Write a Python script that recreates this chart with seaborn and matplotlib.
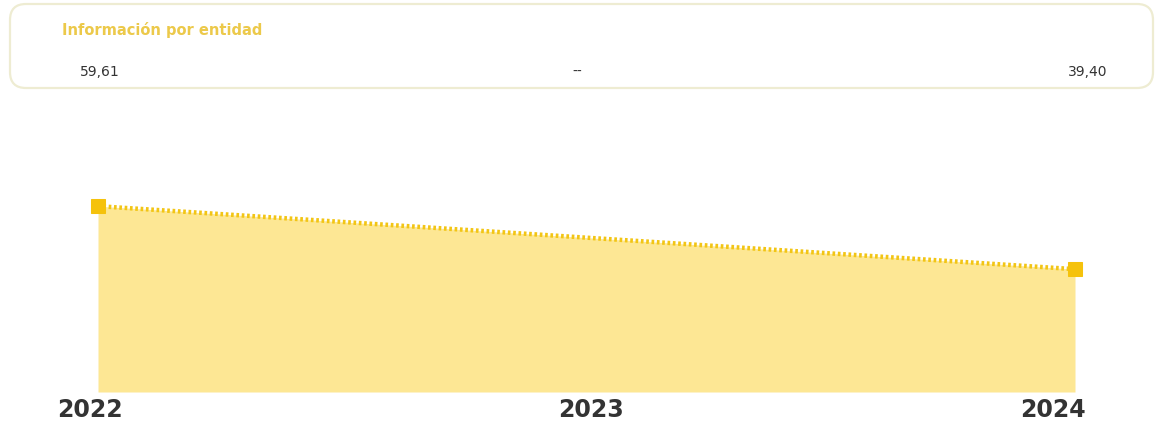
import matplotlib
matplotlib.use('Agg')
import matplotlib.pyplot as plt
import matplotlib.transforms as mtransforms
from matplotlib.patches import FancyBboxPatch
import pandas as pd
import seaborn as sns

# datos
years = ["2022", "2023", "2024"]
values = [59.61, None, 39.40]
card_title = "Información por entidad"
card_values = ["59,61", "--", "39,40"]

FILL = "#fde794"
LINE = "#f2c515"
MARK = "#f5c20c"
TEXT_DARK = "#333333"

sns.set_theme(style="white")
plt.rcParams['font.family'] = ['DejaVu Sans']

W, H = 1158, 423
fig = plt.figure(figsize=(W / 100, H / 100), dpi=100)
fig.patch.set_facecolor("white")

# capa en pixeles para la tarjeta superior
bg = fig.add_axes([0, 0, 1, 1])
bg.set_xlim(0, W)
bg.set_ylim(H, 0)
bg.axis("off")
card = FancyBboxPatch((10, 4), 1143, 84,
                      boxstyle="round,pad=0,rounding_size=16",
                      facecolor="white", edgecolor="#eeecd2", linewidth=1.6)
bg.add_patch(card)
bg.text(62, 30, card_title, color="#ecc94a", fontsize=10.5,
        fontweight="bold", va="center", ha="left")
bg.text(80, 72, card_values[0], color=TEXT_DARK, fontsize=10,
        va="center", ha="left")
bg.text(577, 72, card_values[1], color=TEXT_DARK, fontsize=10,
        va="center", ha="center")
bg.text(1107, 72, card_values[2], color=TEXT_DARK, fontsize=10,
        va="center", ha="right")

# grafico de area
df = pd.DataFrame({"year": years, "value": values})
df["pos"] = range(len(df))
pts = df.dropna()

ax = fig.add_axes([98 / W, (H - 392) / H, (1075 - 98) / W, (392 - 180) / H])
ax.fill_between(pts["pos"], pts["value"], 0, color=FILL, linewidth=0)
sns.lineplot(data=pts, x="pos", y="value", ax=ax, color=LINE, linewidth=3.2,
             linestyle=(0, (0.6, 0.6)), marker="s", markersize=10.5,
             markerfacecolor=MARK, markeredgecolor=MARK, clip_on=False)
ax.set_xlim(0, 2)
ax.set_ylim(0, 68)
ax.set_xticks(df["pos"])
ax.set_xticklabels(years, fontsize=17, fontweight="bold", color=TEXT_DARK)
ax.set_yticks([])
ax.set_xlabel("")
ax.set_ylabel("")
ax.tick_params(axis="x", length=0, pad=4)
for s in ax.spines.values():
    s.set_visible(False)
ax.patch.set_alpha(0)

# desplazar etiquetas extremas hacia dentro
shifts = [-8, 5, -22]
for lab, dx in zip(ax.get_xticklabels(), shifts):
    off = mtransforms.ScaledTranslation(dx / 100, 0, fig.dpi_scale_trans)
    lab.set_transform(lab.get_transform() + off)

fig.savefig("out.png", dpi=100)
